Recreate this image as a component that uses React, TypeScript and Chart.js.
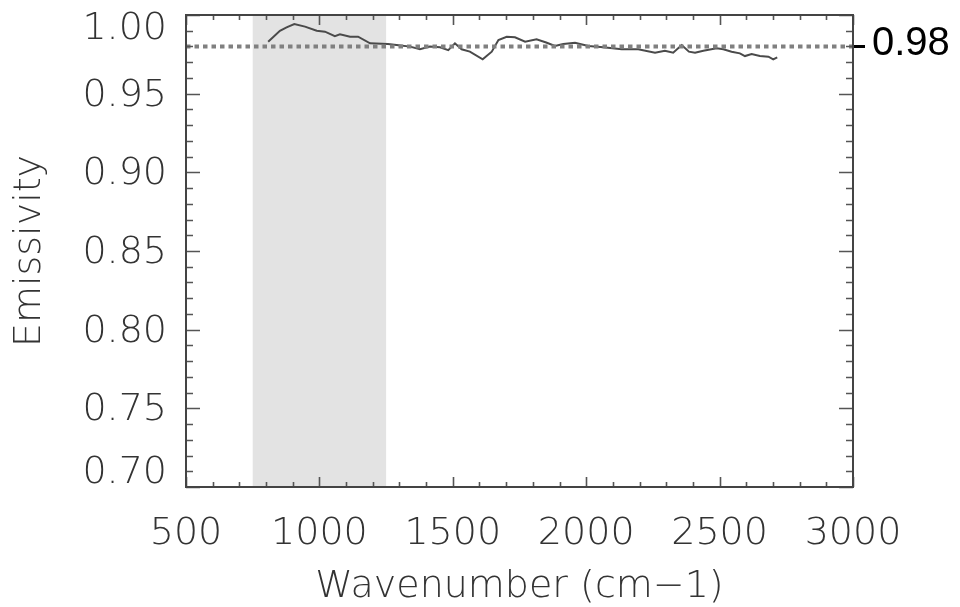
import React, { useEffect, useRef } from "react";
import { Chart, registerables } from "chart.js";

Chart.register(...registerables);

// ---- data ----
const WAVENUMBER = [
  808, 852, 877, 906, 946, 990, 1021, 1058, 1077, 1115, 1145, 1190, 1257, 1305,
  1340, 1377, 1414, 1452, 1483, 1508, 1533, 1564, 1612, 1646, 1671, 1702, 1733,
  1771, 1814, 1850, 1883, 1914, 1958, 2008, 2064, 2133, 2195, 2258, 2295, 2326,
  2358, 2385, 2408, 2439, 2489, 2514, 2545, 2576, 2595, 2620, 2651, 2683, 2701, 2716,
];
const EMISSIVITY = [
  0.983, 0.99, 0.9921, 0.9943, 0.9926, 0.99, 0.9894, 0.9866, 0.9877, 0.9862, 0.9862,
  0.982, 0.9816, 0.9806, 0.9799, 0.9782, 0.9799, 0.9795, 0.9777, 0.982, 0.9782,
  0.9767, 0.9718, 0.9767, 0.9841, 0.9862, 0.9858, 0.983, 0.9845, 0.9825, 0.9803,
  0.9816, 0.9824, 0.9803, 0.9795, 0.9782, 0.9782, 0.976, 0.9773, 0.976, 0.9809,
  0.9767, 0.976, 0.9773, 0.9788, 0.9782, 0.9767, 0.9756, 0.9739, 0.9752, 0.9739,
  0.9735, 0.9718, 0.9731,
];
const REFERENCE_LEVEL = 0.98;
const X_MIN = 500;
const X_MAX = 3000;
const X_STEP = 500;
const X_MINOR_STEP = 100;
const Y_MIN = 0.7;
const Y_MAX = 1.0;
const Y_TICKS = [0.7, 0.75, 0.8, 0.85, 0.9, 0.95, 1.0];
const Y_MINOR_STEP = 0.01;
const SHADE_BAND = [750, 1250];
const X_TITLE = "Wavenumber (cm\u22121)";
const Y_TITLE = "Emissivity";

// ---- styles ----
const FONT_FAMILY = '"DejaVu Sans", sans-serif';
const FONT_WEIGHT = "200";
const FONT_SIZE = 38;
const TEXT_COLOR = "#333333";
const FRAME_COLOR = "#444444";
const TICK_COLOR = "#555555";

const decorPlugin = {
  id: "decor",
  beforeDatasetsDraw(chart: any) {
    const { ctx, chartArea } = chart;
    const xs = chart.scales.x;
    const x0 = xs.getPixelForValue(SHADE_BAND[0]);
    const x1 = xs.getPixelForValue(SHADE_BAND[1]);
    ctx.save();
    ctx.fillStyle = "#e3e3e3";
    ctx.fillRect(x0, chartArea.top, x1 - x0, chartArea.bottom - chartArea.top);
    ctx.restore();
  },
  afterDatasetsDraw(chart: any) {
    const { ctx, chartArea } = chart;
    const xs = chart.scales.x;
    const ys = chart.scales.y;
    ctx.save();
    // tick marks (inward) on all four sides
    ctx.strokeStyle = TICK_COLOR;
    ctx.lineWidth = 1.6;
    ctx.beginPath();
    const nx = Math.round((X_MAX - X_MIN) / X_MINOR_STEP);
    for (let i = 0; i <= nx; i++) {
      const v = X_MIN + i * X_MINOR_STEP;
      const px = Math.round(xs.getPixelForValue(v)) + 0.5;
      const len = i % 5 === 0 ? 10 : 5;
      ctx.moveTo(px, chartArea.bottom);
      ctx.lineTo(px, chartArea.bottom - len);
      ctx.moveTo(px, chartArea.top);
      ctx.lineTo(px, chartArea.top + len);
    }
    const ny = Math.round((Y_MAX - Y_MIN) / Y_MINOR_STEP);
    for (let i = 0; i <= ny; i++) {
      const v = Y_MIN + i * Y_MINOR_STEP;
      const py = Math.round(ys.getPixelForValue(v)) + 0.5;
      const len = i % 5 === 0 ? 14 : 7;
      ctx.moveTo(chartArea.left, py);
      ctx.lineTo(chartArea.left + len, py);
      ctx.moveTo(chartArea.right, py);
      ctx.lineTo(chartArea.right - len, py);
    }
    ctx.stroke();
    // frame
    ctx.strokeStyle = FRAME_COLOR;
    ctx.lineWidth = 2;
    ctx.strokeRect(
      chartArea.left,
      chartArea.top,
      chartArea.right - chartArea.left,
      chartArea.bottom - chartArea.top
    );
    // y tick labels, end labels kept inside the frame
    ctx.font = `${FONT_WEIGHT} ${FONT_SIZE}px ${FONT_FAMILY}`;
    ctx.fillStyle = TEXT_COLOR;
    ctx.textAlign = "right";
    ctx.textBaseline = "middle";
    Y_TICKS.forEach((v, i) => {
      let off = 2;
      if (i === 0) off = -14;
      if (i === Y_TICKS.length - 1) off = 14.5;
      ctx.fillText(v.toFixed(2), chartArea.left - 19, ys.getPixelForValue(v) + off);
    });
    ctx.restore();
  },
};

const noPadding = (s: any) => {
  s.paddingTop = 0;
  s.paddingBottom = 0;
  s.paddingLeft = 0;
  s.paddingRight = 0;
};

export default function App() {
  const canvasRef = useRef<HTMLCanvasElement | null>(null);

  useEffect(() => {
    if (!canvasRef.current) return;
    const spectrum = WAVENUMBER.map((x, i) => ({ x, y: EMISSIVITY[i] }));
    const refLine = [
      { x: X_MIN, y: REFERENCE_LEVEL },
      { x: X_MAX, y: REFERENCE_LEVEL },
    ];
    const font = { family: FONT_FAMILY, size: FONT_SIZE, weight: FONT_WEIGHT as any };
    const chart = new Chart(canvasRef.current, {
      type: "line",
      data: {
        datasets: [
          {
            data: refLine,
            borderColor: "#808080",
            borderWidth: 4,
            borderDash: [4.5, 4],
            pointRadius: 0,
            yAxisID: "y",
            borderCapStyle: "butt",
          },
          {
            data: spectrum,
            borderColor: "#4a4a4a",
            borderWidth: 2,
            pointRadius: 0,
            tension: 0,
            yAxisID: "y",
          },
        ],
      },
      options: {
        responsive: false,
        animation: false,
        devicePixelRatio: 1,
        layout: { padding: { top: 15, left: 0, right: 0, bottom: 0 } },
        plugins: { legend: { display: false }, tooltip: { enabled: false } },
        scales: {
          x: {
            type: "linear",
            position: "bottom",
            min: X_MIN,
            max: X_MAX,
            ticks: {
              stepSize: X_STEP,
              font,
              color: TEXT_COLOR,
              padding: 24,
              maxRotation: 0,
              autoSkip: false,
              callback: (v: any) => String(v),
            },
            grid: { display: false, drawTicks: false },
            border: { display: false },
            title: {
              display: true,
              text: X_TITLE,
              font,
              color: TEXT_COLOR,
              padding: { top: 0, bottom: -3 },
            },
            afterFit: (s: any) => {
              s.height = 120;
              noPadding(s);
            },
          },
          y: {
            type: "linear",
            position: "left",
            min: Y_MIN,
            max: Y_MAX,
            ticks: { display: false, stepSize: 0.05 },
            grid: { display: false, drawTicks: false },
            border: { display: false },
            title: {
              display: true,
              text: Y_TITLE,
              font,
              color: TEXT_COLOR,
              padding: { top: 7, bottom: 0 },
            },
            afterFit: (s: any) => {
              s.width = 186;
              noPadding(s);
            },
          },
          y2: {
            type: "linear",
            position: "right",
            min: Y_MIN,
            max: Y_MAX,
            afterBuildTicks: (s: any) => {
              s.ticks = [{ value: REFERENCE_LEVEL }];
            },
            ticks: {
              font: { family: '"Liberation Sans", Arial, sans-serif', size: 40 },
              color: "#000000",
              padding: 7,
              labelOffset: -2,
              callback: (v: any) => Number(v).toFixed(2),
            },
            grid: {
              drawOnChartArea: false,
              drawTicks: true,
              tickLength: 12,
              tickWidth: 3,
              tickColor: "#000000",
            },
            border: { display: false },
            afterFit: (s: any) => {
              s.width = 107;
              noPadding(s);
            },
          },
        },
      },
      plugins: [decorPlugin],
    } as any);
    return () => chart.destroy();
  }, []);

  return (
    <div style={{ position: "absolute", left: 0, top: 0, width: 960, height: 607, background: "#fff" }}>
      <canvas ref={canvasRef} width={960} height={607} style={{ display: "block" }} />
    </div>
  );
}
